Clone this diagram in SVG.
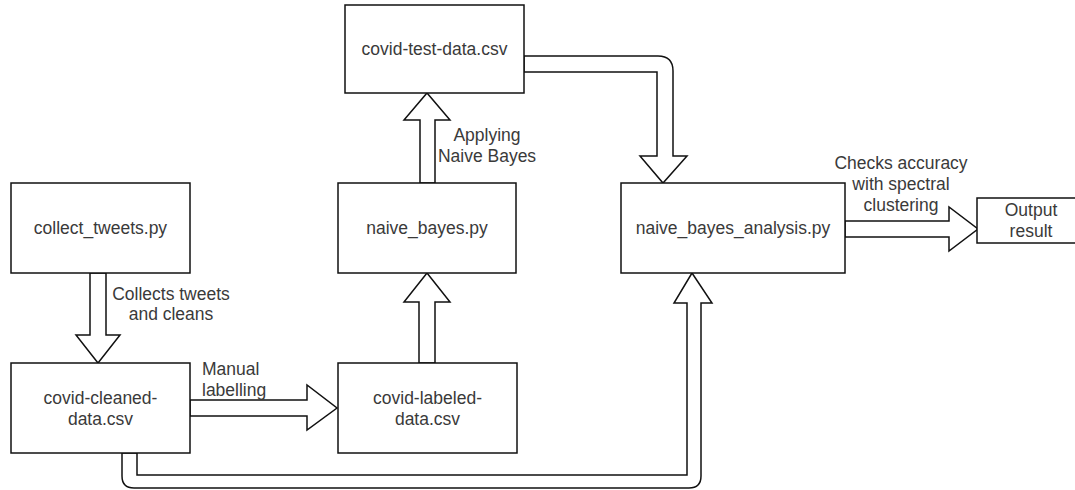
<svg xmlns="http://www.w3.org/2000/svg" width="1075" height="490" viewBox="0 0 1075 490">
<style>
.box{fill:#fff;stroke:#111;stroke-width:1.5}
.arr{fill:#fff;stroke:#111;stroke-width:1.5;stroke-linejoin:miter}
.t{font-family:"Liberation Sans",Arial,sans-serif;font-size:17.5px;fill:#3a3a3a;text-anchor:middle}
.l{font-family:"Liberation Sans",Arial,sans-serif;font-size:17.5px;fill:#3a3a3a}
</style>
<rect width="1075" height="490" fill="#fff"/>
<g id="connectors">
<path class="arr" d="M90,273 L90,335 L76,335 L98,363 L120,335 L106,335 L106,273 Z"/>
<path class="arr" d="M190,400 L307,400 L307,385 L337,408 L307,430 L307,416 L190,416 Z"/>
<path class="arr" d="M419,363 L419,302 L404,302 L427,273 L450,302 L435,302 L435,363 Z"/>
<path class="arr" d="M420,183 L420,120 L404,120 L427,93 L450,120 L435,120 L435,183 Z"/>
<path class="arr" d="M524,56 L658,56 Q673,56 673,71 L673,156 L687,156 L663,183 L640,156 L657,156 L657,72 L524,72 Z"/>
<path class="arr" d="M122,453 L122,476 Q122,488 134,488 L689,488 Q701,488 701,476 L701,303 L712,303 L692,273 L674,303 L687,303 L687,475 L137,475 L137,453 Z"/>
<path class="arr" d="M845,221 L949,221 L949,207 L978,229 L949,251 L949,237 L845,237 Z"/>
<text class="t" x="171" y="300">Collects tweets</text>
<text class="t" x="171" y="320">and cleans</text>
<text class="l" x="202" y="375">Manual</text>
<text class="l" x="202" y="396">labelling</text>
<text class="t" x="487" y="141">Applying</text>
<text class="t" x="487" y="162">Naive Bayes</text>
<text class="t" x="901" y="169">Checks accuracy</text>
<text class="t" x="901" y="190">with spectral</text>
<text class="t" x="901" y="211">clustering</text>
</g>
<g id="collect_tweets"><rect class="box" x="11" y="183" width="179" height="90"/><text class="t" x="100.5" y="234">collect_tweets.py</text></g>
<g id="covid_cleaned"><rect class="box" x="11" y="363" width="179" height="90"/><text class="t" x="100.5" y="404">covid-cleaned-</text><text class="t" x="100.5" y="425">data.csv</text></g>
<g id="covid_labeled"><rect class="box" x="338" y="363" width="179" height="90"/><text class="t" x="427.5" y="404">covid-labeled-</text><text class="t" x="427.5" y="425">data.csv</text></g>
<g id="naive_bayes"><rect class="box" x="338" y="183" width="178" height="90"/><text class="t" x="427" y="234">naive_bayes.py</text></g>
<g id="covid_test"><rect class="box" x="345" y="5" width="179" height="88"/><text class="t" x="434.5" y="55">covid-test-data.csv</text></g>
<g id="analysis"><rect class="box" x="621" y="183" width="224" height="90"/><text class="t" x="733" y="234">naive_bayes_analysis.py</text></g>
<g id="output"><rect class="box" x="977" y="198" width="110" height="45"/><text class="t" x="1031" y="216">Output</text><text class="t" x="1031" y="237">result</text></g>
</svg>
